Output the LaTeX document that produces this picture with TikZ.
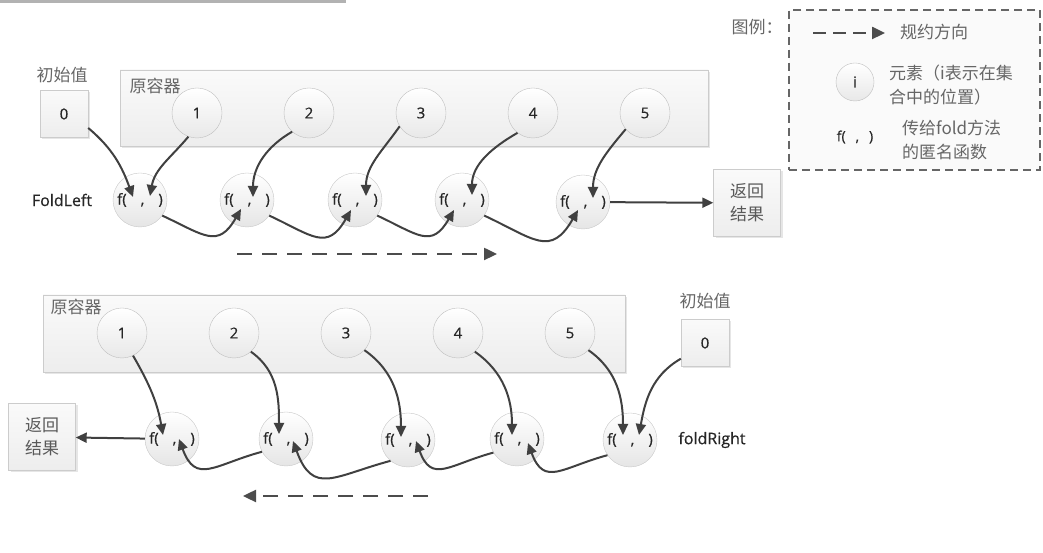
\documentclass[tikz,border=0pt]{standalone}
\usepackage{fontspec}
\setmainfont{Open Sans}[FakeBold=0.6]
\newfontfamily\cjk{Noto Sans CJK SC}
\usetikzlibrary{arrows.meta,shadows}

\begin{document}
\begin{tikzpicture}[x=1pt, y=1pt, >={Triangle[length=11pt,width=10pt]},
  elem/.style={circle, draw=black!25, top color=white, bottom color=black!9, minimum size=50pt, inner sep=0pt, font=\fontsize{15}{15}\selectfont, text=black!85},
  func/.style={circle, draw=black!22, top color=white, bottom color=black!10, minimum size=54pt, inner sep=0pt, font=\fontsize{15}{15}\selectfont, text=black!85},
  holder/.style={rectangle, draw=black!20, top color=black!2, bottom color=black!7, drop shadow={opacity=0.2, shadow xshift=2pt, shadow yshift=-2pt}},
  valbox/.style={holder, minimum width=48pt, minimum height=47pt, inner sep=0pt, font=\fontsize{15}{15}\selectfont, text=black!85},
  retbox/.style={holder, minimum width=67pt, minimum height=67pt, inner sep=0pt, align=center, font=\cjk\fontsize{17}{23}\selectfont, text=black!65},
  cjklabel/.style={inner sep=0pt, font=\cjk\fontsize{17}{24}\selectfont, text=black!60},
  latlabel/.style={inner sep=0pt, font=\fontsize{16}{16}\selectfont, text=black!85},
  edge/.style={->, line width=2pt, draw=black!75},
  flow/.style={-{Triangle[length=13pt,width=12pt]}, dash pattern=on 15pt off 10pt, line width=2.4pt, draw=black!70}
]
\useasboundingbox (0,0) rectangle (1043,553);
\fill[black!30] (0,550) rectangle (346,553);

% foldLeft
\node[holder, minimum width=588pt, minimum height=76pt] (box1) at (414,445) {};
\node[cjklabel] (box1lab) at (155,467) {原容器};
\node[cjklabel] (init1lab) at (62,478) {初始值};
\node[valbox] (init1) at (64,439) {0};
\node[elem] (a1) at (197,440) {1};
\node[elem] (a2) at (309,440) {2};
\node[elem] (a3) at (421,440) {3};
\node[elem] (a4) at (533,440) {4};
\node[elem] (a5) at (645,440) {5};
\node[func] (l1) at (140,353) {f(\hspace{14pt},\hspace{14pt})};
\node[func] (l2) at (247,353) {f(\hspace{14pt},\hspace{14pt})};
\node[func] (l3) at (355,353) {f(\hspace{14pt},\hspace{14pt})};
\node[func] (l4) at (462,353) {f(\hspace{14pt},\hspace{14pt})};
\node[func] (l5) at (583,351) {f(\hspace{14pt},\hspace{14pt})};
\node[latlabel] (foldl) at (62,353) {FoldLeft};
\node[retbox] (ret1) at (747,350) {返回\\结果};
\coordinate (l1a) at ([shift={(-7,3)}]l1.center);
\coordinate (l1e) at ([shift={(10,4)}]l1.center);
\coordinate (l2a) at ([shift={(-6,-9)}]l2.center);
\coordinate (l2e) at ([shift={(6,3)}]l2.center);
\coordinate (l3a) at ([shift={(-4,-10)}]l3.center);
\coordinate (l3e) at ([shift={(11,4)}]l3.center);
\coordinate (l4a) at ([shift={(-8,-10)}]l4.center);
\coordinate (l4e) at ([shift={(10,5)}]l4.center);
\coordinate (l5a) at ([shift={(-5,-8)}]l5.center);
\coordinate (l5e) at ([shift={(10,4)}]l5.center);
\draw[edge] (init1.-30) to[out=-40, in=110] (l1a);
\draw[edge] (a1.-110) to[out=-130, in=80] (l1e);
\draw[edge] (a2.-132) to[out=-150, in=90] (l2e);
\draw[edge] (a3.-148) to[out=-125, in=90] (l3e);
\draw[edge] (a4.-128) to[out=-150, in=90] (l4e);
\draw[edge] (a5.-140) to[out=-130, in=90] (l5e);
\draw[edge] (l1.-35) to[out=-25, in=-120, looseness=1.5] (l2a);
\draw[edge] (l2.-35) to[out=-25, in=-120, looseness=1.5] (l3a);
\draw[edge] (l3.-35) to[out=-25, in=-120, looseness=1.5] (l4a);
\draw[edge] (l4.-35) to[out=-25, in=-120, looseness=1.5] (l5a);
\draw[edge] (l5) -- (ret1);
\coordinate (dir1s) at (237,299);
\coordinate (dir1e) at (497,299);
\draw[flow] (dir1s) -- (dir1e);

% foldRight
\node[holder, minimum width=582pt, minimum height=77pt] (box2) at (334,219.5) {};
\node[cjklabel] (box2lab) at (76,246) {原容器};
\node[cjklabel] (init2lab) at (705,252) {初始值};
\node[valbox] (init2) at (705,210) {0};
\node[elem] (b1) at (122,220) {1};
\node[elem] (b2) at (234,220) {2};
\node[elem] (b3) at (346,220) {3};
\node[elem] (b4) at (458,220) {4};
\node[elem] (b5) at (570,220) {5};
\node[func] (r1) at (172,114) {f(\hspace{14pt},\hspace{14pt})};
\node[func] (r2) at (286,114) {f(\hspace{14pt},\hspace{14pt})};
\node[func] (r3) at (408,113) {f(\hspace{14pt},\hspace{14pt})};
\node[func] (r4) at (517,114) {f(\hspace{14pt},\hspace{14pt})};
\node[func] (r5) at (630,113) {f(\hspace{14pt},\hspace{14pt})};
\node[latlabel] (foldr) at (712,113) {foldRight};
\node[retbox] (ret2) at (42,116) {返回\\结果};
\coordinate (r1e) at ([shift={(-9,4)}]r1.center);
\coordinate (r1a) at ([shift={(7,0)}]r1.center);
\coordinate (r2e) at ([shift={(-7,5)}]r2.center);
\coordinate (r2a) at ([shift={(7,-2)}]r2.center);
\coordinate (r3e) at ([shift={(-7,3)}]r3.center);
\coordinate (r3a) at ([shift={(8,-1)}]r3.center);
\coordinate (r4e) at ([shift={(-5,4)}]r4.center);
\coordinate (r4a) at ([shift={(11,-4)}]r4.center);
\coordinate (r5e) at ([shift={(-7,5)}]r5.center);
\coordinate (r5a) at ([shift={(9,5)}]r5.center);
\draw[edge] (b1.-64) to[out=-60, in=100] (r1e);
\draw[edge] (b2.-48) to[out=-35, in=90] (r2e);
\draw[edge] (b3.-43) to[out=-35, in=90] (r3e);
\draw[edge] (b4.-48) to[out=-35, in=90] (r4e);
\draw[edge] (b5.-43) to[out=-35, in=90] (r5e);
\draw[edge] (init2.-147) to[out=-150, in=80] (r5a);
\draw[edge] (r2.-152) to[out=-165, in=-70, looseness=1.5] (r1a);
\draw[edge] (r3.-130) to[out=-165, in=-70, looseness=1.5] (r2a);
\draw[edge] (r4.-150) to[out=-165, in=-70, looseness=1.5] (r3a);
\draw[edge] (r5.-146) to[out=-165, in=-70, looseness=1.5] (r4a);
\draw[edge] (r1) -- (ret2);
\coordinate (dir2s) at (428,57);
\coordinate (dir2e) at (243,57);
\draw[flow] (dir2s) -- (dir2e);

% legend
\node[cjklabel] (leglab) at (757,526) {图例：};
\node[draw=black!60, fill=black!2, dash pattern=on 8pt off 5pt, line width=1.3pt, minimum width=251pt, minimum height=160pt] (legend) at (914.5,463) {};
\coordinate (leg1s) at (813,520);
\coordinate (leg1e) at (885,520);
\draw[flow, dash pattern=on 13pt off 7pt] (leg1s) -- (leg1e);
\node[cjklabel] (leg1lab) at (934,521) {规约方向};
\node[elem, minimum size=38pt] (legi) at (855,471) {i};
\node[cjklabel, anchor=west, align=left] (legilab) at (889,468) {元素（i表示在集\\合中的位置）};
\node[latlabel, font=\fontsize{14}{14}\selectfont] (legf) at (855,416) {f(\hspace{10pt},\hspace{10pt})};
\node[cjklabel, anchor=west, align=left] (legflab) at (902,412.5) {传给fold方法\\的匿名函数};
\end{tikzpicture}
\end{document}
